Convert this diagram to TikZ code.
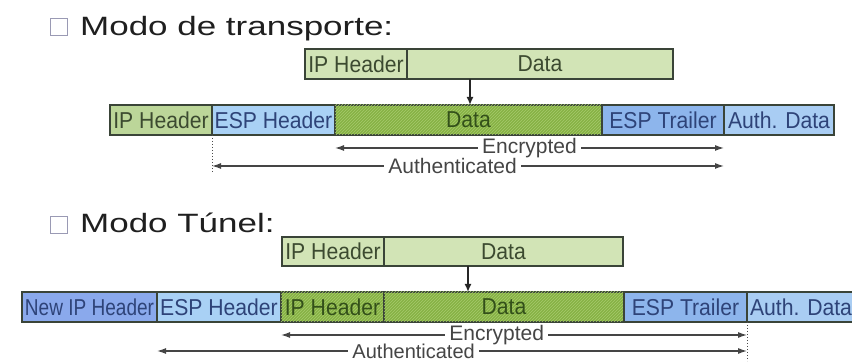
\documentclass[tikz,border=0pt]{standalone}
\usepackage{fontspec}
\setmainfont{Liberation Sans}
\newfontfamily\titlefont[FakeStretch=1.32]{Liberation Sans}
\newfontfamily\boxfont[FakeStretch=0.92]{Liberation Sans}
\usetikzlibrary{arrows.meta,patterns,calc}
\definecolor{lgreen}{HTML}{D2E4B6}
\definecolor{mgreen}{HTML}{BCD699}
\definecolor{hgreen}{HTML}{86B244}
\definecolor{hline}{HTML}{A6CA6C}
\definecolor{espblue}{HTML}{A9D1F5}
\definecolor{trblue}{HTML}{8DB5EC}
\definecolor{authblue}{HTML}{A9CDF3}
\definecolor{newblue}{HTML}{8AA9EC}
\definecolor{bord}{HTML}{3A4438}
\definecolor{gtext}{HTML}{3C4A30}
\definecolor{btext}{HTML}{2E4378}
\definecolor{htext}{HTML}{33501A}
\definecolor{atext}{HTML}{454545}
\definecolor{bulletc}{HTML}{9A9AB4}
\tikzset{
  pbox/.style={draw=bord, line width=1.3pt, anchor=north west, inner sep=0pt, outer sep=0pt,
    minimum height=30pt, font=\boxfont\fontsize{23}{23}\selectfont},
  greenbox/.style={pbox, fill=lgreen, text=gtext},
  greenbox2/.style={pbox, fill=mgreen, text=gtext},
  hatchbox/.style={pbox, fill=hgreen, text=htext, postaction={pattern=north east lines, pattern color=hline}},
  espbox/.style={pbox, fill=espblue, text=btext},
  trbox/.style={pbox, fill=trblue, text=btext},
  authbox/.style={pbox, fill=authblue, text=btext},
  newbox/.style={pbox, fill=newblue, text=btext},
  span/.style={draw=atext, line width=1.2pt, {Latex[length=9pt,width=6pt]}-{Latex[length=9pt,width=6pt]}},
  spanlabel/.style={fill=white, inner xsep=4pt, inner ysep=0pt, text=atext, font=\fontsize{21}{21}\selectfont},
  downarrow/.style={draw=black!85, line width=2pt, -{Latex[length=8pt,width=7pt]}},
  dotline/.style={draw=black!70, line width=1pt, dotted},
  bulletbox/.style={draw=bulletc, line width=1.8pt, minimum size=17pt, inner sep=0pt},
  titletext/.style={anchor=base west, inner sep=0pt, text=black!88, font=\titlefont\fontsize{26.5}{26.5}\selectfont}
}
\begin{document}
\begin{tikzpicture}[x=1pt,y=-1pt]
\useasboundingbox (0,0) rectangle (852,363);
% ---------- Transport mode ----------
\node[bulletbox] (sq1) at (59,27) {};
\node[titletext] (title1) at (80,36) {Modo de transporte:};
\node[greenbox, minimum width=102pt] (tIP) at (305,49) {IP Header};
\node[greenbox, minimum width=266pt] (tData) at (407,49) {Data};
\node[greenbox2, minimum width=102pt] (bIP) at (110,105) {IP Header};
\node[espbox, minimum width=123pt] (bESP) at (212,105) {ESP Header};
\node[hatchbox, minimum width=267pt] (bData) at (335,105) {Data};
\node[trbox, minimum width=122pt] (bTr) at (602,105) {ESP Trailer};
\node[authbox, minimum width=110pt] (bAuth) at (724,105) {Auth. Data};
\draw[downarrow] ($(tData.south west)+(63,0)$) -- ($(bData.north west)+(135,0)$);
\coordinate (yE1) at (0,148);
\coordinate (yA1) at (0,166);
\coordinate (yD1) at (0,172);
\draw[span] (bData.west |- yE1) -- (bTr.east |- yE1) node[spanlabel, pos=0.5] {Encrypted};
\draw[span] (bESP.west |- yA1) -- (bTr.east |- yA1) node[spanlabel, pos=0.47] {Authenticated};
\draw[dotline] (bESP.south west) -- (bESP.west |- yD1);
% ---------- Tunnel mode ----------
\node[bulletbox] (sq2) at (59,225) {};
\node[titletext] (title2) at (80,233) {Modo Túnel:};
\node[greenbox, minimum width=102pt, minimum height=29pt] (uIP) at (282,237) {IP Header};
\node[greenbox, minimum width=239pt, minimum height=29pt] (uData) at (384,237) {Data};
\node[newbox, minimum width=135pt] (nIP) at (22,292) {\scalebox{0.9}[1]{New IP Header}};
\node[espbox, minimum width=124pt] (nESP) at (157,292) {ESP Header};
\node[hatchbox, minimum width=103pt] (nIIP) at (281,292) {IP Header};
\node[hatchbox, minimum width=240pt] (nData) at (384,292) {Data};
\node[trbox, minimum width=123pt] (nTr) at (624,292) {ESP Trailer};
\node[authbox, minimum width=108pt] (nAuth) at (747,292) {Auth. Data};
\draw[downarrow] ($(uData.south west)+(84,0)$) -- ($(nData.north west)+(84,0)$);
\coordinate (yE2) at (0,335);
\coordinate (yA2) at (0,351);
\coordinate (yD2) at (0,361);
\draw[span] (nIIP.west |- yE2) -- (nTr.east |- yE2) node[spanlabel, pos=0.463] {Encrypted};
\draw[span] (nESP.west |- yA2) -- (nTr.east |- yA2) node[spanlabel, pos=0.435, font=\fontsize{20}{20}\selectfont] {Authenticated};
\draw[dotline] (nTr.south east) -- (nTr.east |- yD2);
\end{tikzpicture}
\end{document}
